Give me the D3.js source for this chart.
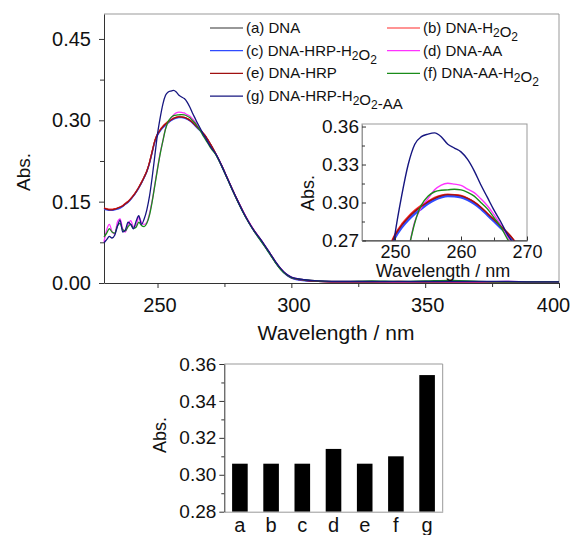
<!DOCTYPE html>
<html>
<head>
<meta charset="utf-8">
<script src="https://cdn.jsdelivr.net/npm/d3@7"></script>
<style>
  html, body { margin: 0; padding: 0; background: #fff; }
  svg { display: block; font-family: "Liberation Sans", Arial, sans-serif; }
</style>
</head>
<body>
<div id="chart"></div>
<script>
// ------- data -------
const wavelengths = [
  230,231,232,233,234,235,236,237,238,239,240,241,242,243,244,245,246,
  247,248,249,250,251,252,253,254,255,256,257,258,259,260,261,262,263,264,265,266,267,268,269,270,
  272,274,276,278,280,282,284,286,288,290,292,294,296,298,300,
  305,310,320,330,340,350,360,370,380,390,400
];

const absA = [
  .137,.136,.135,.135,.136,.137,.139,.142,.146,.150,.155,.161,.168,.176,.185,.195,.206,
  .222,.242,.262,.274,.282,.288,.293,.297,.300,.303,.305,.306,.3058,.305,.303,.300,.296,.291,.286,.281,.276,.270,.262,.254,
  .236,.216,.194,.172,.151,.131,.113,.097,.083,.069,.054,.039,.026,.016,.010,
  .005,.003,.002,.002,.002,.002,.002,.002,.002,.002,.002
];
const absB = [
  .138,.137,.136,.136,.137,.138,.140,.143,.147,.151,.156,.162,.169,.177,.186,.196,.207,
  .223,.243,.263,.275,.283,.289,.294,.298,.301,.304,.3058,.3065,.3062,.3055,.3035,.3005,.2965,.2915,.2865,.2815,.2765,.2705,.2625,.2545,
  .236,.216,.194,.172,.151,.131,.113,.097,.083,.069,.054,.039,.026,.016,.010,
  .005,.003,.002,.002,.003,.002,.002,.002,.002,.002,.002
];
const absC = [
  .136,.135,.134,.134,.135,.136,.138,.141,.145,.149,.154,.160,.167,.175,.184,.194,.205,
  .220,.240,.260,.272,.280,.286,.291,.295,.299,.302,.304,.305,.3048,.304,.302,.299,.295,.290,.285,.280,.275,.269,.261,.253,
  .235,.215,.193,.171,.150,.130,.112,.096,.082,.068,.053,.038,.025,.015,.009,
  .004,.003,.002,.002,.002,.002,.002,.002,.002,.002,.002
];
const absD = [
  .076,.098,.108,.095,.090,.112,.118,.100,.094,.108,.115,.104,.106,.122,.112,.108,.112,
  .128,.152,.182,.212,.240,.262,.285,.296,.303,.310,.3138,.3152,.3145,.3135,.3105,.3078,.3030,.2975,.2905,.2825,.2735,.266,.258,.250,
  .237,.217,.195,.173,.152,.132,.114,.098,.084,.070,.055,.040,.027,.017,.011,
  .006,.004,.003,.003,.002,.003,.002,.002,.003,.002,.002
];
const absE = [
  .138,.136,.135,.135,.136,.138,.140,.142,.146,.150,.155,.161,.168,.176,.185,.195,.206,
  .222,.242,.262,.274,.282,.288,.293,.297,.3005,.3033,.3053,.3062,.306,.3052,.3032,.3003,.2963,.2913,.2863,.2813,.2763,.2703,.2623,.2543,
  .236,.216,.194,.172,.151,.131,.113,.097,.083,.069,.054,.039,.026,.016,.010,
  .005,.003,.002,.002,.002,.002,.002,.002,.002,.002,.002
];
const absF = [
  .085,.092,.100,.094,.092,.105,.110,.098,.096,.104,.108,.101,.103,.112,.106,.104,.110,
  .125,.150,.180,.210,.238,.262,.284,.298,.305,.3085,.3097,.310,.3105,.310,.308,.305,.300,.295,.288,.281,.2715,.264,.256,.248,
  .235,.215,.193,.171,.150,.130,.112,.096,.082,.068,.053,.038,.025,.016,.010,
  .006,.004,.003,.004,.003,.004,.005,.003,.002,.002,.002
];
const absG = [
  .074,.080,.086,.083,.088,.104,.116,.094,.098,.112,.108,.100,.114,.124,.108,.118,.135,
  .160,.195,.235,.275,.305,.330,.346,.352,.354,.355,.352,.346,.343,.340,.334,.325,.314,.304,.294,.285,.275,.267,.258,.250,
  .236,.216,.194,.172,.151,.131,.113,.097,.084,.070,.055,.040,.027,.017,.011,
  .006,.004,.003,.003,.003,.003,.003,.003,.003,.002,.002
];

const seriesLabels = [
  "(a) DNA", "(b) DNA-H_2O_2", "(c) DNA-HRP-H_2O_2", "(d) DNA-AA",
  "(e) DNA-HRP", "(f) DNA-AA-H_2O_2", "(g) DNA-HRP-H_2O_2-AA"
];
const seriesValues = [absA, absB, absC, absD, absE, absF, absG];

const mainXTicks = [250, 300, 350, 400];
const mainXMinor = [275, 325, 375];
const mainYTicks = [0, 0.15, 0.30, 0.45];
const mainYMinor = [0.075, 0.225, 0.375];

const insetXTicks = [250, 260, 270];
const insetXMinor = [255, 265];
const insetYTicks = [0.27, 0.30, 0.33, 0.36];
const insetYMinor = [0.285, 0.315, 0.345];

const barCategories = ["a", "b", "c", "d", "e", "f", "g"];
const barValues = [0.306, 0.306, 0.306, 0.314, 0.306, 0.310, 0.354];
const barYTicks = [0.28, 0.30, 0.32, 0.34, 0.36];
const barYMinor = [0.29, 0.31, 0.33, 0.35];

// ------- style -------
const COLORS = ["#333333", "#ff2a2a", "#2f4bff", "#ff33ff", "#a01010", "#1a8c1a", "#161680"];
const AXIS = "#333";
const FRAME = "#999";

const fmt2 = d3.format(".2f");

function styleAxis(sel, size) {
  sel.selectAll("path.domain").attr("stroke", AXIS);
  sel.selectAll("line").attr("stroke", AXIS);
  sel.selectAll("text").attr("fill", "#111").style("font-size", size + "px");
}

// label text with "_n" subscripts
function richText(sel, str, size) {
  const parts = str.split(/_(\d)/);
  parts.forEach((p, i) => {
    if (p === "") return;
    if (i % 2 === 1) {
      sel.append("tspan").attr("dy", 4).style("font-size", (size - 3) + "px").text(p);
      sel.append("tspan").attr("dy", -4).text("");
    } else {
      sel.append("tspan").text(p);
    }
  });
}

function render() {
  const svg = d3.select("#chart").append("svg")
    .attr("width", 574).attr("height", 535);

  const series = seriesValues.map((vals, i) => ({
    label: seriesLabels[i],
    color: COLORS[i],
    points: wavelengths.map((w, j) => ({ w, v: vals[j] }))
  }));

  // ---------- main spectrum ----------
  const x = d3.scaleLinear().domain([230, 400]).range([104, 559]);
  const y = d3.scaleLinear().domain([0, 0.496]).range([283, 14]);

  svg.append("path")
    .attr("d", `M${x(230)},${y(0.496)}H${x(400)}V${y(0)}`)
    .attr("fill", "none").attr("stroke", FRAME);

  svg.append("g").attr("transform", `translate(0,${y(0)})`)
    .call(d3.axisBottom(x).tickValues(mainXTicks).tickSize(5).tickSizeOuter(0).tickPadding(10).tickFormat(d3.format("d")))
    .call(g => styleAxis(g, 20))
    // last label pulled in so it stays inside the page
    .call(g => g.selectAll(".tick text").attr("dx", d => d === 400 ? -6 : 2));
  svg.append("g").attr("transform", `translate(0,${y(0)})`)
    .call(d3.axisBottom(x).tickValues(mainXMinor).tickSize(4).tickFormat(""))
    .call(g => g.select(".domain").remove())
    .call(g => styleAxis(g, 20));
  svg.append("g").attr("transform", `translate(${x(230)},0)`)
    .call(d3.axisLeft(y).tickValues(mainYTicks).tickSize(5).tickSizeOuter(0).tickPadding(8).tickFormat(fmt2))
    .call(g => styleAxis(g, 20));
  svg.append("g").attr("transform", `translate(${x(230)},0)`)
    .call(d3.axisLeft(y).tickValues(mainYMinor).tickSize(4).tickFormat(""))
    .call(g => g.select(".domain").remove())
    .call(g => styleAxis(g, 20));

  svg.append("text")
    .attr("x", 336).attr("y", 340)
    .attr("text-anchor", "middle").style("font-size", "21px").attr("fill", "#111")
    .text("Wavelength / nm");
  svg.append("text")
    .attr("transform", "translate(30,172) rotate(-90)")
    .attr("text-anchor", "middle").style("font-size", "19px").attr("fill", "#111")
    .text("Abs.");

  const line = d3.line().x(d => x(d.w)).y(d => y(d.v)).curve(d3.curveMonotoneX);
  svg.append("g").selectAll("path")
    .data(series).enter().append("path")
    .attr("fill", "none")
    .attr("stroke", d => d.color)
    .attr("stroke-width", 1.3)
    .attr("d", d => line(d.points));

  // legend
  const leg = svg.append("g");
  series.forEach((s, i) => {
    const col = i % 2, row = Math.floor(i / 2);
    const lx = col === 0 ? 210 : 387;
    const ly = 28 + row * 22.7;
    leg.append("line")
      .attr("x1", lx).attr("x2", lx + 33).attr("y1", ly).attr("y2", ly)
      .attr("stroke", s.color).attr("stroke-width", 1.2);
    const t = leg.append("text")
      .attr("x", lx + 36).attr("y", ly + 5)
      .style("font-size", "15px").attr("fill", "#111");
    richText(t, s.label, 15);
  });

  // ---------- inset ----------
  const xi = d3.scaleLinear().domain([245, 270]).range([362, 527]);
  const yi = d3.scaleLinear().domain([0.27, 0.362]).range([240.5, 124]);

  svg.append("rect")
    .attr("x", xi(245)).attr("y", yi(0.362))
    .attr("width", xi(270) - xi(245)).attr("height", yi(0.27) - yi(0.362))
    .attr("fill", "#fff").attr("stroke", FRAME);

  svg.append("clipPath").attr("id", "insetClip")
    .append("rect")
    .attr("x", xi(245)).attr("y", yi(0.362))
    .attr("width", xi(270) - xi(245)).attr("height", yi(0.27) - yi(0.362));

  const lineI = d3.line().x(d => xi(d.w)).y(d => yi(d.v)).curve(d3.curveMonotoneX);
  svg.append("g").attr("clip-path", "url(#insetClip)")
    .selectAll("path")
    .data(series).enter().append("path")
    .attr("fill", "none")
    .attr("stroke", d => d.color)
    .attr("stroke-width", (d, i) => i === 2 ? 2.2 : 1.4)
    .attr("d", d => lineI(d.points.filter(p => p.w >= 240 && p.w <= 275)));

  svg.append("g").attr("transform", `translate(0,${yi(0.27)})`)
    .call(d3.axisBottom(xi).tickValues(insetXTicks).tickSize(-4).tickSizeOuter(0).tickPadding(5).tickFormat(d3.format("d")))
    .call(g => styleAxis(g, 18));
  svg.append("g").attr("transform", `translate(0,${yi(0.27)})`)
    .call(d3.axisBottom(xi).tickValues(insetXMinor).tickSize(-3).tickFormat(""))
    .call(g => g.select(".domain").remove())
    .call(g => styleAxis(g, 18));
  svg.append("g").attr("transform", `translate(${xi(245)},0)`)
    .call(d3.axisLeft(yi).tickValues(insetYTicks).tickSize(-4).tickSizeOuter(0).tickPadding(3).tickFormat(fmt2))
    .call(g => styleAxis(g, 19))
    .call(g => g.select(".domain").attr("stroke", FRAME));
  svg.append("g").attr("transform", `translate(${xi(245)},0)`)
    .call(d3.axisLeft(yi).tickValues(insetYMinor).tickSize(-3).tickFormat(""))
    .call(g => g.select(".domain").remove())
    .call(g => styleAxis(g, 19));

  svg.append("text")
    .attr("x", 443).attr("y", 277)
    .attr("text-anchor", "middle").style("font-size", "18px").attr("fill", "#111")
    .text("Wavelength / nm");
  svg.append("text")
    .attr("transform", "translate(314,193) rotate(-90)")
    .attr("text-anchor", "middle").style("font-size", "18px").attr("fill", "#111")
    .text("Abs.");

  // ---------- bar chart ----------
  const xb = d3.scaleBand().domain(barCategories).range([224.3, 442.7])
    .paddingInner(0.5).paddingOuter(0.25);
  const yb = d3.scaleLinear().domain([0.28, 0.36]).range([511.7, 364]);

  svg.append("path")
    .attr("d", `M${xb.range()[0]},${yb(0.36)}H${xb.range()[1]}V${yb(0.28)}`)
    .attr("fill", "none").attr("stroke", FRAME);

  svg.append("g").selectAll("rect")
    .data(barValues).enter().append("rect")
    .attr("x", (d, i) => xb(barCategories[i]))
    .attr("width", xb.bandwidth())
    .attr("y", d => yb(d))
    .attr("height", d => yb(0.28) - yb(d))
    .attr("fill", "#000");

  svg.append("g").attr("transform", `translate(0,${yb(0.28)})`)
    .call(d3.axisBottom(xb).tickSize(0).tickSizeOuter(0).tickFormat(""))
    .call(g => g.select(".domain").attr("stroke", FRAME));
  svg.append("g").attr("transform", `translate(${xb.range()[0]},0)`)
    .call(d3.axisLeft(yb).tickValues(barYTicks).tickSize(5).tickSizeOuter(0).tickPadding(3).tickFormat(fmt2))
    .call(g => styleAxis(g, 19));
  svg.append("g").attr("transform", `translate(${xb.range()[0]},0)`)
    .call(d3.axisLeft(yb).tickValues(barYMinor).tickSize(3).tickFormat(""))
    .call(g => g.select(".domain").remove())
    .call(g => styleAxis(g, 19));

  svg.append("g").selectAll("text")
    .data(barCategories).enter().append("text")
    .attr("x", d => xb(d) + xb.bandwidth() / 2)
    .attr("y", 532)
    .attr("text-anchor", "middle")
    .style("font-size", "20px").attr("fill", "#111")
    .text(d => d);

  svg.append("text")
    .attr("transform", "translate(166,435) rotate(-90)")
    .attr("text-anchor", "middle").style("font-size", "18px").attr("fill", "#111")
    .text("Abs.");
}

render();
</script>
</body>
</html>
